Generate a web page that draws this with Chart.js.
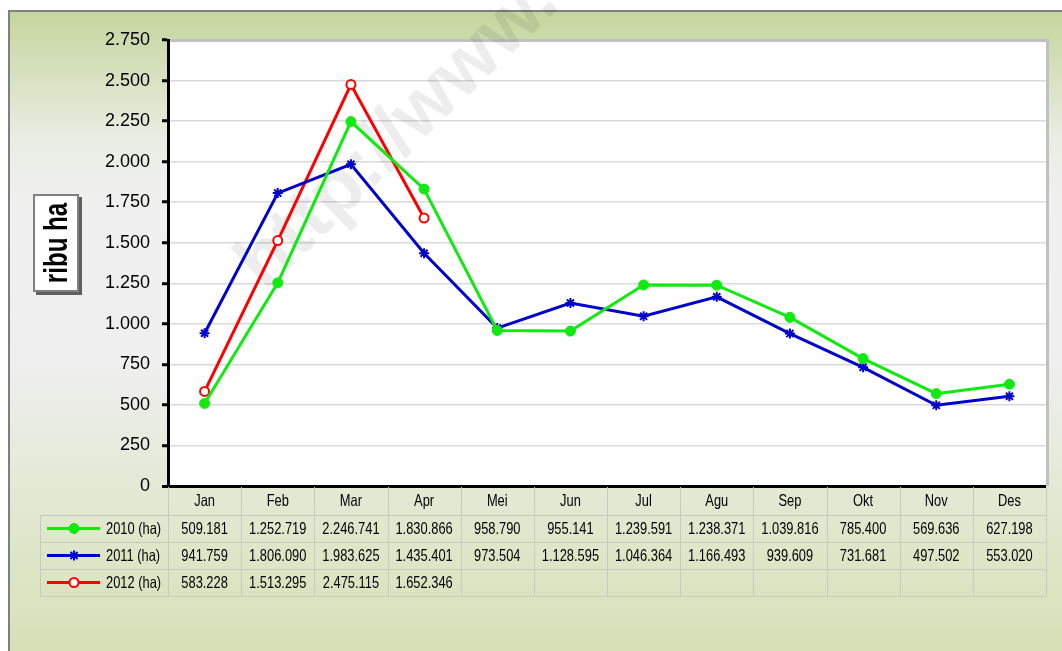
<!DOCTYPE html>
<html><head><meta charset="utf-8">
<script src="https://cdn.jsdelivr.net/npm/chart.js@4.4.1/dist/chart.umd.min.js"></script>
<style>html,body{margin:0;padding:0;background:#fff;overflow:hidden}#wrap{width:1062px;height:651px;position:relative}</style>
</head><body><div id="wrap"><canvas id="c" width="1062" height="651"></canvas></div>
<script>
// ---- data ----
const months = ['Jan','Feb','Mar','Apr','Mei','Jun','Jul','Agu','Sep','Okt','Nov','Des'];
const seriesNames = ['2010 (ha)','2011 (ha)','2012 (ha)'];
const values2010 = [509181,1252719,2246741,1830866,958790,955141,1239591,1238371,1039816,785400,569636,627198];
const values2011 = [941759,1806090,1983625,1435401,973504,1128595,1046364,1166493,939609,731681,497502,553020];
const values2012 = [583228,1513295,2475115,1652346,null,null,null,null,null,null,null,null];
const yMin = 0, yMax = 2750, yStep = 250;
const yTitle = 'ribu ha';
const watermark = 'http://www.';

const FONT = "'Liberation Sans', Arial, sans-serif";
const fmt = v => v == null ? '' : String(Math.round(v)).replace(/\B(?=(\d{3})+(?!\d))/g, '.');
const toRibu = arr => arr.map(v => v == null ? null : v / 1000);

const colors = ['#10ea10', '#0000cc', '#ff0000'];
const pointStyles = [
  {pointStyle:'circle', pointRadius:5, pointBackgroundColor:colors[0], pointBorderColor:colors[0], pointBorderWidth:1},
  {pointStyle:'star', pointRadius:5, pointBackgroundColor:colors[1], pointBorderColor:colors[1], pointBorderWidth:2},
  {pointStyle:'circle', pointRadius:4.5, pointBackgroundColor:'#ffffff', pointBorderColor:colors[2], pointBorderWidth:2}
];
const allValues = [values2010, values2011, values2012];

function sText(ctx, t, x, y, sx) {
  ctx.save(); ctx.translate(x, y); ctx.scale(sx, 1); ctx.fillText(t, 0, 0); ctx.restore();
}

const deco = {
  id: 'deco',
  beforeDraw(chart) {
    const ctx = chart.ctx, a = chart.chartArea;
    ctx.save();
    ctx.fillStyle = '#ffffff'; ctx.fillRect(0, 0, chart.width, chart.height);
    const g = ctx.createLinearGradient(0, 11, 0, 651);
    g.addColorStop(0, '#c4d59c');
    g.addColorStop(0.2, '#eaede3');
    g.addColorStop(0.3, '#f0f0f0');
    g.addColorStop(0.55, '#efefef');
    g.addColorStop(0.75, '#e3e9d4');
    g.addColorStop(1, '#d6e1b6');
    ctx.fillStyle = g; ctx.fillRect(9, 11, 1100, 700);
    ctx.strokeStyle = '#7f7f7f'; ctx.lineWidth = 2;
    ctx.beginPath(); ctx.moveTo(9, 700); ctx.lineTo(9, 11); ctx.lineTo(1100, 11); ctx.stroke();
    // plot area
    ctx.fillStyle = '#ffffff'; ctx.fillRect(a.left, a.top, a.right - a.left, a.bottom - a.top);
    ctx.strokeStyle = '#c0c0c0'; ctx.lineWidth = 3;
    ctx.beginPath(); ctx.moveTo(a.left, a.top + 0.5); ctx.lineTo(a.right + 1.5, a.top + 0.5); ctx.lineTo(a.right + 1.5, a.bottom); ctx.stroke();
    ctx.restore();
  },
  beforeDatasetsDraw(chart) {
    const ctx = chart.ctx;
    ctx.save();
    ctx.translate(265, 292); ctx.rotate(-44 * Math.PI / 180);
    ctx.font = "bold 77px " + FONT;
    ctx.fillStyle = 'rgba(0,0,0,0.07)';
    ctx.textBaseline = 'alphabetic'; ctx.textAlign = 'left';
    ctx.fillText(watermark, 0, 0);
    ctx.restore();
  },
  afterDraw(chart) {
    const ctx = chart.ctx, a = chart.chartArea, xs = chart.scales.x;
    const cw = (a.right - a.left) / months.length;
    const rowTop = [a.bottom, 515, 542, 569, 596];
    const tableLeft = 40;
    ctx.save();
    // grid of table
    ctx.strokeStyle = '#c6cbbf'; ctx.lineWidth = 1;
    ctx.beginPath();
    for (let r = 1; r < rowTop.length; r++) {
      ctx.moveTo(tableLeft, rowTop[r] + 0.5); ctx.lineTo(a.right, rowTop[r] + 0.5);
    }
    ctx.moveTo(tableLeft + 0.5, rowTop[1]); ctx.lineTo(tableLeft + 0.5, rowTop[4]);
    for (let i = 0; i <= months.length; i++) {
      const x = Math.round(xs.getPixelForValue(0) - cw / 2 + i * cw) + 0.5;
      ctx.moveTo(x, rowTop[0] + 1); ctx.lineTo(x, rowTop[4]);
    }
    ctx.stroke();
    // header
    ctx.fillStyle = '#000'; ctx.font = '16.5px ' + FONT;
    ctx.textAlign = 'center'; ctx.textBaseline = 'middle';
    months.forEach((m, i) => sText(ctx, m, xs.getPixelForValue(i), 501, 0.78));
    // rows
    allValues.forEach((vals, r) => {
      const cy = (rowTop[r + 1] + rowTop[r + 2]) / 2 + 1;
      ctx.textAlign = 'center';
      vals.forEach((v, i) => sText(ctx, fmt(v), xs.getPixelForValue(i), cy, 0.78));
      // legend
      ctx.strokeStyle = colors[r]; ctx.lineWidth = 3;
      ctx.beginPath(); ctx.moveTo(47, cy - 1); ctx.lineTo(100, cy - 1); ctx.stroke();
      const ps = pointStyles[r];
      ctx.fillStyle = ps.pointBackgroundColor; ctx.strokeStyle = ps.pointBorderColor; ctx.lineWidth = ps.pointBorderWidth;
      Chart.helpers.drawPoint(ctx, {pointStyle: ps.pointStyle, radius: ps.pointRadius, borderWidth: ps.pointBorderWidth, rotation: 0}, 74, cy - 1);
      ctx.fillStyle = '#000'; ctx.textAlign = 'left';
      sText(ctx, seriesNames[r], 106, cy, 0.78);
    });
    // y title box
    ctx.fillStyle = '#5f5f5f'; ctx.fillRect(36, 197, 46, 98);
    ctx.fillStyle = '#ffffff'; ctx.fillRect(33, 194, 46, 98);
    ctx.strokeStyle = '#808080'; ctx.lineWidth = 2; ctx.strokeRect(34, 195, 44, 96);
    ctx.translate(67, 243); ctx.rotate(-Math.PI / 2); ctx.scale(0.73, 1);
    ctx.fillStyle = '#000'; ctx.font = 'bold 33px ' + FONT;
    ctx.textAlign = 'center'; ctx.textBaseline = 'alphabetic';
    ctx.fillText(yTitle, 0, 0);
    ctx.restore();
  }
};

new Chart(document.getElementById('c'), {
  type: 'line',
  data: {
    labels: months,
    datasets: allValues.map((vals, i) => Object.assign({
      label: seriesNames[i], data: toRibu(vals),
      borderColor: colors[i], borderWidth: 3, tension: 0, spanGaps: false
    }, pointStyles[i]))
  },
  options: {
    responsive: false, animation: false, devicePixelRatio: 1,
    layout: {padding: {left: 0, top: 40, right: 16, bottom: 165}},
    plugins: {legend: {display: false}, tooltip: {enabled: false}},
    scales: {
      x: {display: false, offset: true},
      y: {
        min: yMin, max: yMax,
        afterFit: s => { s.width = 168; },
        border: {display: true, color: '#000', width: 3},
        grid: {
          color: c => c.tick && c.tick.value === 0 ? '#000' : (c.tick && c.tick.value === yMax ? 'rgba(0,0,0,0)' : '#d9d9d9'),
          lineWidth: c => c.tick && c.tick.value === 0 ? 3 : 1.5,
          tickColor: '#000', tickWidth: 3, tickLength: 6
        },
        ticks: {
          stepSize: yStep, padding: 12, color: '#000',
          font: {family: FONT, size: 18},
          callback: v => fmt(v)
        }
      }
    }
  },
  plugins: [deco]
});
</script></body></html>
